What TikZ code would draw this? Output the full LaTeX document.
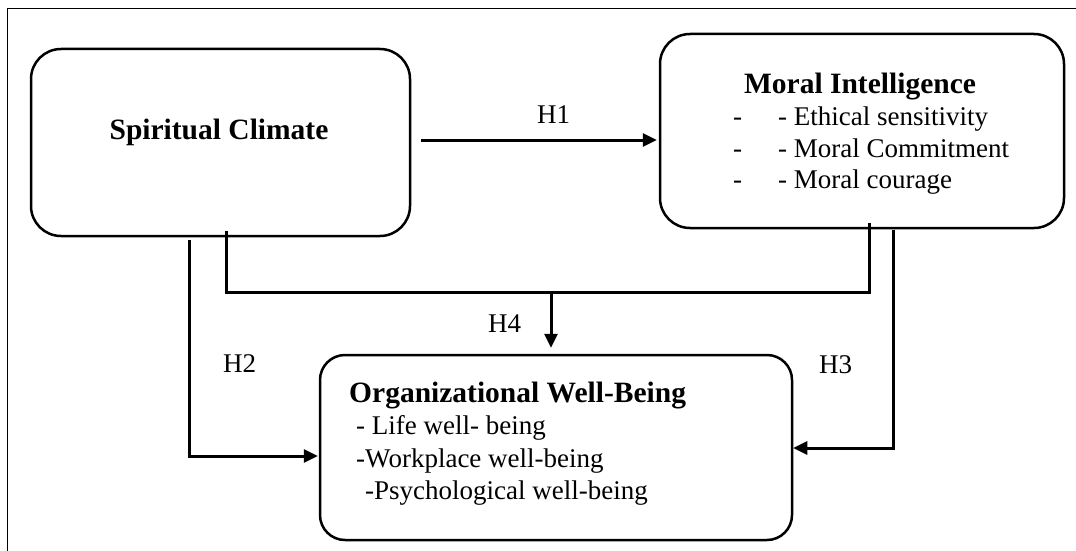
\documentclass[tikz,border=0pt]{standalone}
\usepackage{fontspec}
\setmainfont{Liberation Serif}
\usetikzlibrary{arrows.meta}
\begin{document}
\begin{tikzpicture}[x=1pt,y=-1pt,
  box/.style={draw, line width=2.5pt, rounded corners=30pt, inner sep=0pt},
  conn/.style={line width=3pt},
  arr/.style={conn, -{Triangle[length=14pt,width=13pt]}},
  ttl/.style={font=\fontsize{29.5}{34}\selectfont\bfseries, anchor=base, inner sep=0pt},
  txt/.style={font=\fontsize{27}{32}\selectfont, anchor=base west, inner sep=0pt}]
\useasboundingbox (0,0) rectangle (1076,551);
\coordinate (fa) at (7,551);
\coordinate (fb) at (7,9);
\coordinate (fc) at (1076,9);
\draw[line width=1pt] (fa) -- (fb) -- (fc);

% boxes
\node[box, minimum width=379pt, minimum height=187pt] (sc) at (220.5,142.5) {};
\node[box, minimum width=404pt, minimum height=194pt] (mi) at (862,131) {};
\node[box, rounded corners=25pt, minimum width=472pt, minimum height=185pt] (org) at (556,447.5) {};

% texts
\node[ttl] (sct) at (219,139) {Spiritual Climate};
\node[ttl] (mit) at (860,93) {Moral Intelligence};
\node[txt] (mid1) at (733,125) {-};
\node[txt] (mi1) at (778,125) {- Ethical sensitivity};
\node[txt] (mid2) at (733,157) {-};
\node[txt] (mi2) at (778,157) {- Moral Commitment};
\node[txt] (mid3) at (733,188) {-};
\node[txt] (mi3) at (778,188) {- Moral courage};
\node[txt, font=\fontsize{29.5}{34}\selectfont\bfseries] (orgt) at (349,402) {Organizational Well-Being};
\node[txt] (org1) at (356,434) {- Life well- being};
\node[txt] (org2) at (356,467) {-Workplace well-being};
\node[txt] (org3) at (365,499) {-Psychological well-being};

% labels
\node[txt] (lh1) at (537,123) {H1};
\node[txt] (lh2) at (223,372) {H2};
\node[txt] (lh3) at (819,373) {H3};
\node[txt] (lh4) at (488,332) {H4};

% connectors
\coordinate (h1s) at (421,140);
\draw[arr, shorten >=2pt] (h1s) -- (mi.west |- h1s);

\coordinate (h2s) at (189,240);
\coordinate (h2c) at (189,456);
\draw[arr, shorten >=1pt] (h2s) -- (h2c) -- (org.west |- h2c);

\coordinate (h4a) at (226,231);
\coordinate (h4b) at (226,292);
\coordinate (h4c) at (869,292);
\coordinate (h4d) at (869,223);
\draw[conn] (h4a) -- (h4b) -- (h4c) -- (h4d);
\coordinate (h4m) at (551,292);
\draw[arr, shorten >=6pt] (h4m) -- (org.north -| h4m);

\coordinate (h3s) at (893,230);
\coordinate (h3c) at (893,448);
\draw[arr] (h3s) -- (h3c) -- (org.east |- h3c);
\end{tikzpicture}
\end{document}
